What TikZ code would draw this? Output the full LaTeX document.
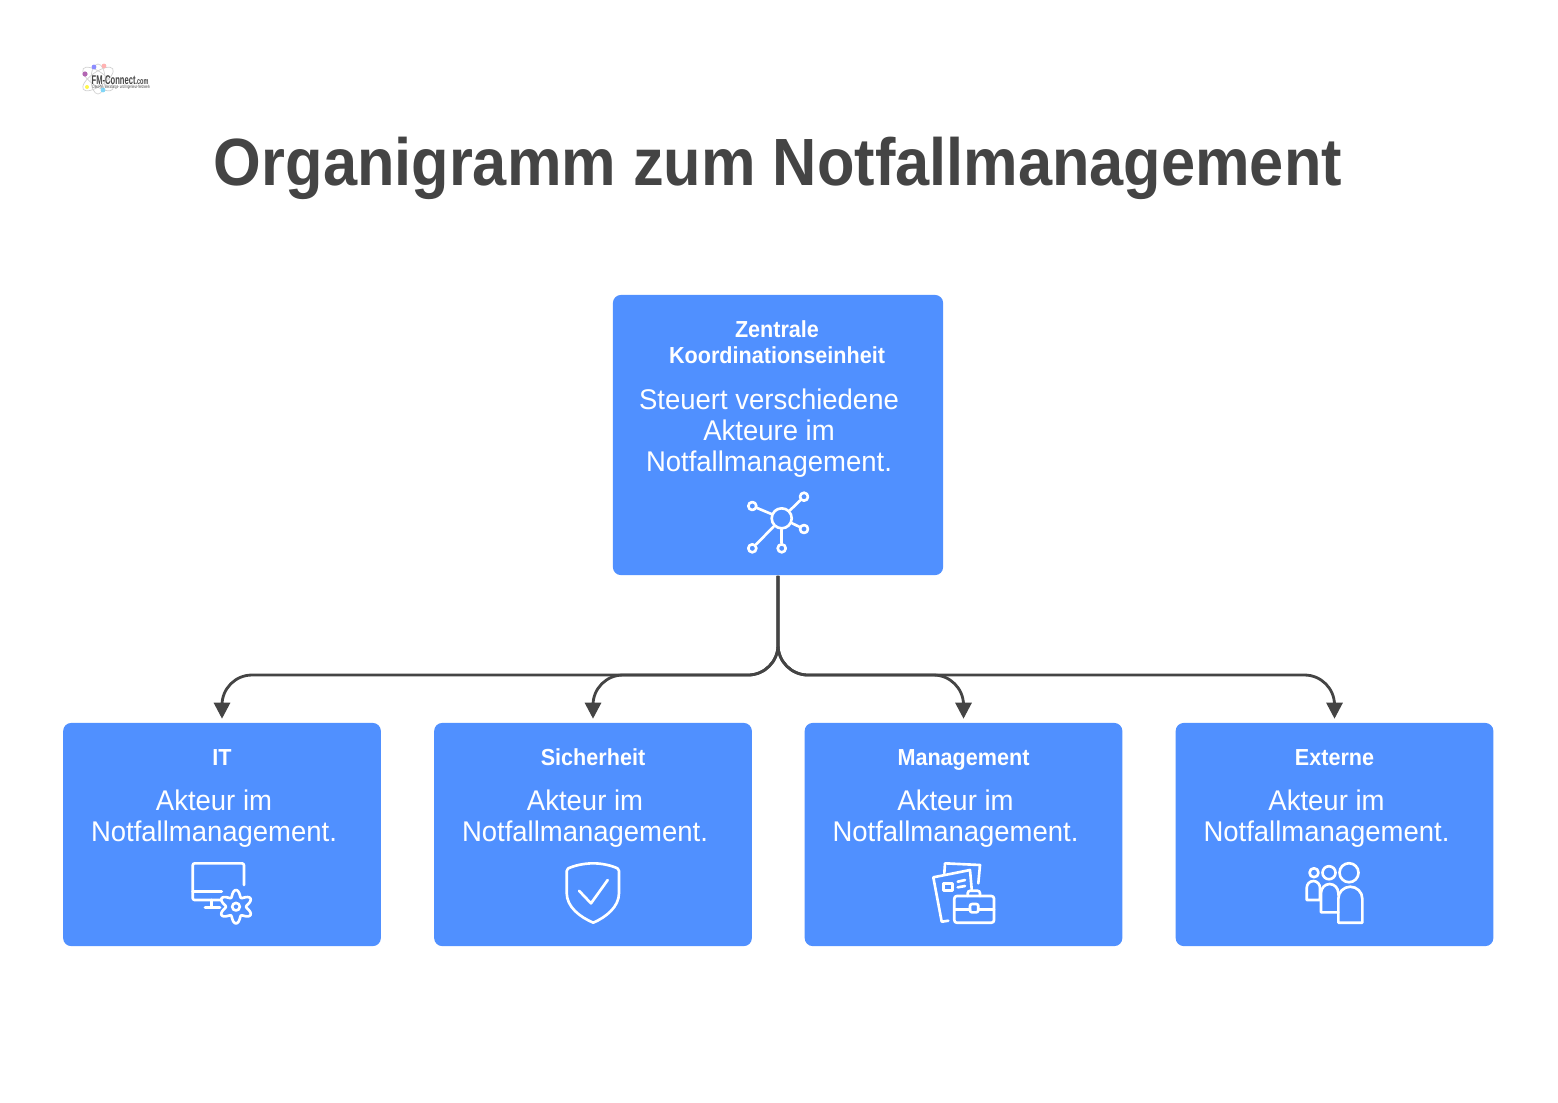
\documentclass[tikz,border=0pt]{standalone}
\usepackage{fontspec}
\setmainfont[FakeStretch=0.965]{Liberation Sans}
\newfontfamily\titlefont[FakeStretch=0.918]{Liberation Sans}
\newfontfamily\headfont[FakeStretch=0.93]{Liberation Sans}
\newfontfamily\logofont[FakeStretch=0.6]{Liberation Sans}
\usetikzlibrary{arrows.meta}
\definecolor{boxblue}{HTML}{5090FF}
\definecolor{darktext}{HTML}{444444}
\tikzset{
    box/.style={fill=boxblue, rounded corners=0.08cm, inner sep=0pt},
    headtext/.style={text=white, align=center, font=\fontsize{6.6pt}{7.4pt}\headfont\bfseries},
    bodytext/.style={text=white, align=center, font=\fontsize{8.1pt}{8.82pt}\selectfont},
    conn/.style={draw=darktext, line width=0.8pt, rounded corners=0.3cm, shorten >=0.035cm,
        -{Triangle[length=0.16cm,width=0.16cm]}},
    icon/.style={draw=white, line width=0.75pt, line cap=round, line join=round},
    hubdot/.style={circle, icon, inner sep=0pt, minimum size=0.2cm},
    satdot/.style={circle, icon, inner sep=0pt, minimum size=0.08cm},
}

\begin{document}
\begin{tikzpicture}[x=0.01cm, y=-0.01cm]
    \useasboundingbox (0,0) rectangle (1558,1102);

    % logo
    \draw[gray!35, line width=0.2pt, rotate around={35:(98,79)}] (98,79) ellipse (18 and 7);
    \draw[gray!35, line width=0.2pt, rotate around={-35:(98,79)}] (98,79) ellipse (18 and 7);
    \draw[gray!35, line width=0.2pt] (98,79) ellipse (7 and 15);
    \fill[violet!60] (85,74) circle (2.6);
    \fill[blue!45] (94,67) circle (2.4);
    \fill[red!30] (104,66) circle (2.4);
    \fill[yellow!70] (87,87) circle (2);
    \fill[cyan!50] (103,90) circle (2.4);
    \node[inner sep=0pt, text=darktext, anchor=west] (logoname) at (91,80)
        {\fontsize{3.6pt}{4pt}\logofont\bfseries FM-Connect\fontsize{2.6pt}{3pt}\selectfont.com};
    \node[inner sep=0pt, text=darktext, anchor=west] (logosub) at (92,87)
        {\fontsize{1.35pt}{2pt}\logofont Das FM-, Beratungs- und Ingenieur-Netzwerk};

    % title
    \node[text=darktext, inner sep=0pt, font=\fontsize{19pt}{22pt}\titlefont\bfseries] (title) at (778,168)
        {Organigramm zum Notfallmanagement};

    % boxes
    \node[box, minimum width=3.30cm, minimum height=2.80cm] (zentrale) at (778,435) {};
    \node[box, minimum width=3.175cm, minimum height=2.23cm] (it) at (222,834.5) {};
    \node[box, minimum width=3.175cm, minimum height=2.23cm] (sicherheit) at (593,834.5) {};
    \node[box, minimum width=3.175cm, minimum height=2.23cm] (management) at (963.5,834.5) {};
    \node[box, minimum width=3.175cm, minimum height=2.23cm] (externe) at (1334.5,834.5) {};

    % texts
    \node[headtext] (zentralehead) at (777,342) {Zentrale\\Koordinationseinheit};
    \node[bodytext] (zentralebody) at (769,433) {Steuert verschiedene\\Akteure im\\Notfallmanagement.};
    \node[headtext, anchor=base] (ithead) at (222,765) {IT};
    \node[bodytext] (itbody) at (214,819) {Akteur im\\Notfallmanagement.};
    \node[headtext, anchor=base] (sicherheithead) at (593,765) {Sicherheit};
    \node[bodytext] (sicherheitbody) at (585,819) {Akteur im\\Notfallmanagement.};
    \node[headtext, anchor=base] (managementhead) at (963.5,765) {Management};
    \node[bodytext] (managementbody) at (955.5,819) {Akteur im\\Notfallmanagement.};
    \node[headtext, anchor=base] (externehead) at (1334.5,765) {Externe};
    \node[bodytext] (externebody) at (1326.5,819) {Akteur im\\Notfallmanagement.};

    % connectors
    \coordinate (bus) at (778,675);
    \draw[conn] (zentrale.south) -- (bus) -- (it.north |- bus) -- (it.north);
    \draw[conn] (zentrale.south) -- (bus) -- (sicherheit.north |- bus) -- (sicherheit.north);
    \draw[conn] (zentrale.south) -- (bus) -- (management.north |- bus) -- (management.north);
    \draw[conn] (zentrale.south) -- (bus) -- (externe.north |- bus) -- (externe.north);

    % network icon
    \node[hubdot] (hub) at (781.7,518.3) {};
    \node[satdot] (sa) at (752.3,506) {};
    \node[satdot] (sb) at (804,496.7) {};
    \node[satdot] (sc) at (804,529) {};
    \node[satdot] (sd) at (752.3,548.3) {};
    \node[satdot] (se) at (781.7,548.3) {};
    \draw[icon] (hub) -- (sa);
    \draw[icon] (hub) -- (sb);
    \draw[icon] (hub) -- (sc);
    \draw[icon] (hub) -- (sd);
    \draw[icon] (hub) -- (se);

    % monitor icon
    \draw[icon, rounded corners=0.02cm] (221.7,900) -- (192.7,900) -- (192.7,863.3) -- (244,863.3) -- (244,885);
    \draw[icon] (192.7,891.7) -- (221.7,891.7);
    \draw[icon] (211.7,900) -- (211.7,907.3);
    \draw[icon] (205,907.3) -- (220,907.3);
    \draw[icon] plot[domain=0:360, samples=90, smooth]
        ({236+(13.4+3.3*cos(6*\x+180))*cos(\x)}, {906.7+(13.4+3.3*cos(6*\x+180))*sin(\x)}) -- cycle;
    \draw[icon] (236,906.7) circle (3.8);

    % shield icon
    \draw[icon] (593.3,863.3) .. controls (583,863.3) and (573,866) .. (568,868.5)
        .. controls (567,869) and (566.7,870) .. (566.7,871) -- (566.7,893)
        .. controls (566.7,907) and (580,917) .. (593.3,922.7)
        .. controls (606,917) and (619,907) .. (619,893) -- (619,871)
        .. controls (619,870) and (618.7,869) .. (617.7,868.5)
        .. controls (613,866) and (603,863.3) .. (593.3,863.3) -- cycle;
    \draw[icon] (579,890.7) -- (591,903.3) -- (607.7,880);

    % papers and briefcase icon
    \draw[icon] (944.3,873.3) -- (945,863.3) -- (980,865) -- (978.3,883.3);
    \draw[icon] (948.3,920.7) -- (941.7,921.7) -- (933.3,877.3) -- (970,870) -- (971.7,889.3);
    \draw[icon] (943.3,883.3) rectangle (952.3,890.7);
    \draw[icon] (957.7,881.7) -- (965,880);
    \draw[icon] (957.7,887.3) -- (965,886);
    \draw[icon, rounded corners=0.025cm] (954.3,896) rectangle (994,922.7);
    \draw[icon, rounded corners=0.025cm] (967.7,896) -- (967.7,890.7) -- (980,890.7) -- (980,896);
    \draw[icon] (954.3,909.3) -- (970,909.3);
    \draw[icon] (978.3,909.3) -- (994,909.3);
    \draw[icon, rounded corners=0.02cm] (970,904) rectangle (978.3,912.3);

    % people icon
    \draw[icon] (1314,872.7) circle (4.5);
    \draw[icon] (1329,872.7) circle (6.5);
    \draw[icon] (1349,872.7) circle (9.5);
    \draw[icon] (1320,900) -- (1306.7,900) -- (1306.7,888) arc (180:360:6.65 and 7) -- cycle;
    \draw[icon] (1338.3,912.3) -- (1321,912.3) -- (1321,893) arc (180:360:8.65 and 9) -- (1338.3,895);
    \draw[icon] (1338.3,922.7) -- (1362.3,922.7) -- (1362.3,898.7) arc (360:180:12 and 12) -- cycle;
\end{tikzpicture}
\end{document}
